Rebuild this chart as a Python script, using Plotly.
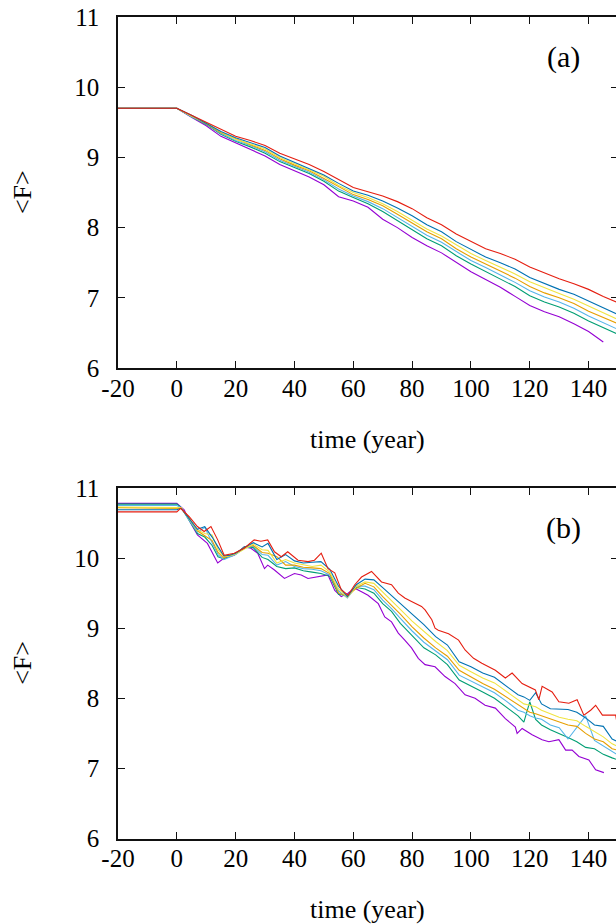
import plotly.graph_objects as go

# ---------------- Panel (a) data ----------------
xa = [-20, 0, 5, 10, 15, 20, 25, 30, 35, 40, 45, 50, 55, 60, 65, 70, 75, 80, 85, 90,
      95, 100, 105, 110, 115, 120, 125, 130, 135, 140, 145, 150]
a_red =    [9.70, 9.70, 9.60, 9.50, 9.39, 9.30, 9.24, 9.17, 9.06, 8.98, 8.90, 8.80, 8.68, 8.57, 8.51, 8.45,
            8.37, 8.27, 8.14, 8.04, 7.91, 7.80, 7.70, 7.63, 7.55, 7.44, 7.35, 7.27, 7.20, 7.12, 7.02, 6.93]
a_blue =   [9.70, 9.70, 9.60, 9.49, 9.37, 9.28, 9.21, 9.14, 9.02, 8.93, 8.85, 8.75, 8.63, 8.52, 8.46, 8.38,
            8.28, 8.17, 8.04, 7.94, 7.80, 7.69, 7.58, 7.50, 7.41, 7.29, 7.20, 7.12, 7.05, 6.95, 6.86, 6.76]
a_yellow = [9.70, 9.70, 9.59, 9.49, 9.36, 9.26, 9.19, 9.12, 9.00, 8.91, 8.83, 8.73, 8.60, 8.50, 8.43, 8.34,
            8.23, 8.11, 7.98, 7.88, 7.75, 7.63, 7.53, 7.44, 7.34, 7.23, 7.14, 7.06, 6.98, 6.88, 6.79, 6.69]
a_orange = [9.70, 9.70, 9.59, 9.48, 9.35, 9.26, 9.18, 9.10, 8.98, 8.89, 8.81, 8.70, 8.58, 8.47, 8.40, 8.31,
            8.19, 8.06, 7.94, 7.84, 7.70, 7.58, 7.48, 7.39, 7.28, 7.16, 7.07, 7.00, 6.92, 6.81, 6.72, 6.63]
a_lblue =  [9.70, 9.70, 9.58, 9.48, 9.34, 9.24, 9.17, 9.08, 8.96, 8.87, 8.79, 8.68, 8.55, 8.45, 8.37, 8.27,
            8.14, 8.01, 7.89, 7.79, 7.66, 7.53, 7.43, 7.33, 7.22, 7.10, 7.01, 6.94, 6.85, 6.74, 6.65, 6.55]
a_green =  [9.70, 9.70, 9.58, 9.47, 9.33, 9.23, 9.15, 9.06, 8.94, 8.85, 8.77, 8.66, 8.52, 8.43, 8.34, 8.23,
            8.10, 7.96, 7.84, 7.74, 7.60, 7.48, 7.37, 7.27, 7.16, 7.03, 6.94, 6.87, 6.78, 6.67, 6.57, 6.48]
a_purple = [9.70, 9.70, 9.57, 9.45, 9.30, 9.21, 9.12, 9.02, 8.90, 8.81, 8.72, 8.61, 8.44, 8.38, 8.29, 8.12,
            8.00, 7.86, 7.74, 7.64, 7.50, 7.37, 7.26, 7.15, 7.02, 6.89, 6.80, 6.73, 6.63, 6.52, 6.37]
xa_purple = xa[:-1]

# ---------------- Panel (b) data ----------------
xb_red = [-20, 0, 1.3, 4.2, 7.0, 9.3, 11.6, 13.9, 16.1, 19.5, 22.9, 26.3, 28.6, 30.9, 33.2, 35.5, 37.7,
          41.2, 44.6, 46.8, 49.1, 51.4, 53.7, 55.9, 58.2, 60.5, 62.8, 66.2, 69.6, 73.0, 75.3, 77.5, 79.8,
          83.2, 84.4, 86.7, 87.8, 88.9, 92.4, 95.8, 98.0, 100.9, 103.7, 108.3, 111.7, 114.0, 117.4, 121.9,
          123.1, 124.2, 127.6, 129.9, 133.3, 136.1, 138.4, 140.7, 142.4, 144.7, 149.2, 150]
b_red = [10.66, 10.66, 10.71, 10.59, 10.45, 10.38, 10.45, 10.26, 10.04, 10.07, 10.14, 10.26, 10.24, 10.26,
         10.09, 10.02, 10.09, 9.97, 9.95, 9.97, 10.07, 9.85, 9.79, 9.55, 9.47, 9.62, 9.73, 9.81, 9.66, 9.62,
         9.50, 9.43, 9.38, 9.31, 9.26, 9.12, 9.00, 8.97, 8.92, 8.83, 8.69, 8.57, 8.50, 8.40, 8.29, 8.36, 8.21,
         8.12, 7.98, 8.17, 8.09, 7.95, 7.93, 7.98, 7.76, 7.83, 7.90, 7.76, 7.76, 7.57]

xb_purple = [-20, 0, 2.5, 4.7, 7.0, 10.4, 13.9, 16.1, 19.5, 22.9, 25.2, 27.5, 29.8, 30.9, 33.2, 36.6, 40.0,
             42.3, 44.6, 48.0, 51.4, 53.7, 55.9, 58.2, 60.5, 62.8, 65.0, 68.5, 70.7, 73.0, 75.3, 77.5, 79.8,
             82.1, 84.4, 87.8, 91.2, 94.6, 98.0, 101.4, 104.8, 108.3, 111.7, 115.1, 115.7, 117.4, 120.8, 124.2,
             126.5, 129.9, 132.2, 134.4, 136.7, 140.1, 142.4, 145.2]
b_purple = [10.78, 10.78, 10.69, 10.50, 10.33, 10.21, 9.93, 10.00, 10.04, 10.16, 10.14, 10.07, 9.85, 9.90,
            9.83, 9.71, 9.78, 9.76, 9.71, 9.73, 9.76, 9.54, 9.45, 9.50, 9.57, 9.52, 9.47, 9.35, 9.16, 9.09,
            8.93, 8.83, 8.72, 8.57, 8.48, 8.45, 8.31, 8.21, 8.05, 8.00, 7.90, 7.86, 7.71, 7.59, 7.50, 7.57,
            7.48, 7.41, 7.38, 7.41, 7.26, 7.26, 7.17, 7.12, 6.98, 6.94]

xb = [-20, 0, 1.5, 4, 7, 9.5, 12, 14, 16, 18, 20, 23, 26, 29, 31, 34, 37, 40, 43, 46, 49, 52, 55, 58, 61,
      64, 67, 70, 73, 76, 80, 84, 88, 92, 96, 100, 104, 108, 112, 116, 118, 120, 122, 124, 127, 130, 133,
      136, 139, 142, 145, 148, 150]
b_blue = [10.69, 10.69, 10.71, 10.58, 10.41, 10.45, 10.30, 10.16, 10.03, 10.04, 10.07, 10.15, 10.22, 10.16,
          10.21, 9.98, 10.05, 9.96, 9.93, 9.94, 9.95, 9.84, 9.60, 9.45, 9.62, 9.70, 9.69, 9.58, 9.47, 9.35,
          9.20, 9.05, 8.88, 8.76, 8.52, 8.45, 8.36, 8.30, 8.18, 8.05, 8.02, 7.97, 8.08, 7.92, 7.85, 7.85, 7.84,
          7.80, 7.72, 7.62, 7.60, 7.42, 7.38]
b_yellow = [10.73, 10.73, 10.72, 10.57, 10.40, 10.35, 10.33, 10.12, 10.02, 10.03, 10.06, 10.13, 10.20,
            10.12, 10.11, 9.93, 9.98, 9.93, 9.90, 9.88, 9.90, 9.80, 9.56, 9.44, 9.60, 9.66, 9.64, 9.52, 9.40,
            9.27, 9.10, 8.95, 8.81, 8.68, 8.47, 8.38, 8.29, 8.22, 8.10, 7.97, 7.92, 7.90, 7.88, 7.83, 7.78,
            7.73, 7.70, 7.68, 7.60, 7.52, 7.45, 7.35, 7.31]
b_orange = [10.72, 10.72, 10.71, 10.58, 10.39, 10.32, 10.25, 10.08, 10.00, 10.04, 10.07, 10.15, 10.18,
            10.08, 10.07, 10.02, 9.90, 9.90, 9.87, 9.86, 9.85, 9.78, 9.50, 9.46, 9.57, 9.64, 9.59, 9.45, 9.33,
            9.20, 9.02, 8.86, 8.72, 8.60, 8.40, 8.30, 8.21, 8.13, 8.02, 7.90, 7.85, 7.80, 7.78, 7.75, 7.70,
            7.66, 7.62, 7.60, 7.50, 7.42, 7.38, 7.28, 7.26]
b_lblue = [10.75, 10.75, 10.72, 10.55, 10.37, 10.44, 10.22, 10.05, 9.98, 10.02, 10.05, 10.14, 10.17, 10.05,
           10.04, 9.90, 9.95, 9.88, 9.85, 9.84, 9.82, 9.76, 9.53, 9.43, 9.60, 9.60, 9.55, 9.40, 9.28, 9.14,
           8.96, 8.80, 8.67, 8.55, 8.33, 8.25, 8.17, 8.08, 7.96, 7.83, 7.80, 7.75, 7.72, 7.70, 7.62, 7.58,
           7.42, 7.58, 7.75, 7.40, 7.32, 7.24, 7.19]
b_green = [10.77, 10.77, 10.72, 10.56, 10.35, 10.30, 10.18, 10.02, 9.99, 10.03, 10.06, 10.16, 10.15, 10.01,
           9.98, 9.88, 9.85, 9.86, 9.82, 9.80, 9.78, 9.74, 9.48, 9.47, 9.58, 9.56, 9.50, 9.35, 9.24, 9.07,
           8.89, 8.72, 8.62, 8.48, 8.26, 8.18, 8.09, 8.00, 7.88, 7.75, 7.66, 7.95, 7.70, 7.62, 7.55, 7.50,
           7.44, 7.38, 7.30, 7.28, 7.20, 7.15, 7.12]

xtick_vals = [-20, 0, 20, 40, 60, 80, 100, 120, 140, 160]
xtick_text = ["-20", "0", "20", "40", "60", "80", "100", "120", "140", "160"]
ytick_vals = [6, 7, 8, 9, 10, 11]

colors = {"purple": "#9400d3", "green": "#009e73", "lblue": "#56b4e9", "orange": "#e69f00",
          "yellow": "#f0e442", "blue": "#0072b2", "red": "#e51e10"}

FONT = "Liberation Serif, Times New Roman, serif"

fig = go.Figure()

panel_a = [(xa_purple, a_purple, "purple"), (xa, a_green, "green"), (xa, a_lblue, "lblue"),
           (xa, a_orange, "orange"), (xa, a_yellow, "yellow"), (xa, a_blue, "blue"), (xa, a_red, "red")]
panel_b = [(xb_purple, b_purple, "purple"), (xb, b_green, "green"), (xb, b_lblue, "lblue"),
           (xb, b_orange, "orange"), (xb, b_yellow, "yellow"), (xb, b_blue, "blue"), (xb_red, b_red, "red")]

for xs, ys, c in panel_a:
    fig.add_trace(go.Scatter(x=xs, y=ys, mode="lines", line=dict(color=colors[c], width=1.1),
                             xaxis="x", yaxis="y", showlegend=False, hoverinfo="skip"))
for xs, ys, c in panel_b:
    fig.add_trace(go.Scatter(x=xs, y=ys, mode="lines", line=dict(color=colors[c], width=1.1),
                             xaxis="x2", yaxis="y2", showlegend=False, hoverinfo="skip"))

W, H = 618, 924
L = 117.5

axis_common = dict(showgrid=False, zeroline=False, showline=True, linecolor="#111", linewidth=1.5,
                   mirror="ticks", ticks="inside", ticklen=7, tickwidth=1.3, tickcolor="#111",
                   automargin=False, tickfont=dict(family=FONT, size=25, color="black"))

xdom = [0, 1]
fig.update_layout(
    width=W, height=H,
    margin=dict(l=L, r=0, t=0, b=0, autoexpand=False),
    paper_bgcolor="white", plot_bgcolor="white",
    xaxis=dict(domain=xdom, range=[-20, 150], tickvals=xtick_vals, ticktext=xtick_text, anchor="y",
               ticklabelstandoff=-3, **axis_common),
    yaxis=dict(domain=[556 / 924, 907 / 924], range=[6, 11], tickvals=ytick_vals, anchor="x",
               ticklabelstandoff=12, **axis_common),
    xaxis2=dict(domain=xdom, range=[-20, 150], tickvals=xtick_vals, ticktext=xtick_text, anchor="y2",
                ticklabelstandoff=-3, **axis_common),
    yaxis2=dict(domain=[85.5 / 924, 436 / 924], range=[6, 11], tickvals=ytick_vals, anchor="x2",
                ticklabelstandoff=12, **axis_common),
)

ann = []
for ytop, ybot, lab in [(17, 368, "(a)"), (488, 838.5, "(b)")]:
    ann.append(dict(text=lab, xref="paper", yref="paper", x=(563 - L) / (W - L),
                    y=(H - (ytop + 40)) / H, xanchor="center", yanchor="middle",
                    showarrow=False, font=dict(family=FONT, size=30, color="black")))
    ann.append(dict(text="&lt;F&gt;", xref="paper", yref="paper", x=(22 - L) / (W - L),
                    y=(H - (ytop + ybot) / 2) / H, xanchor="center", yanchor="middle", textangle=-90,
                    showarrow=False, font=dict(family=FONT, size=26, color="black")))
    ann.append(dict(text="time (year)", xref="paper", yref="paper", x=(367 - L) / (W - L),
                    y=(H - (ybot + 71)) / H, xanchor="center", yanchor="middle",
                    showarrow=False, borderpad=0, font=dict(family=FONT, size=26, color="black")))
fig.update_layout(annotations=ann)

fig.write_html("out.html", post_script="document.body.style.overflow='hidden';document.documentElement.style.overflow='hidden';")
